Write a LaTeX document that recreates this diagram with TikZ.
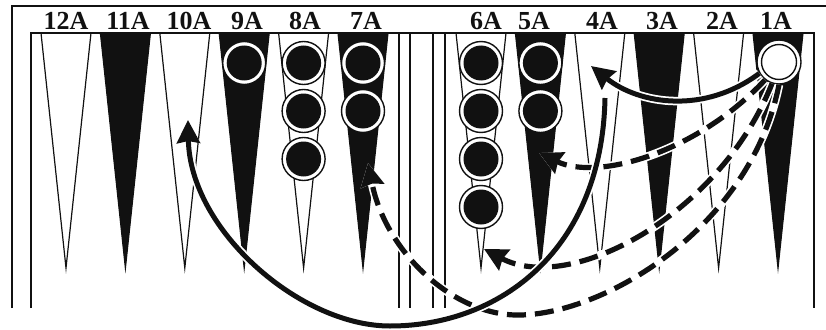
\documentclass[tikz,border=0pt]{standalone}
\usepackage{fontspec}
\setmainfont{Liberation Serif}
\usetikzlibrary{arrows.meta}
\definecolor{ink}{HTML}{111111}
\tikzset{
  every picture/.style={line width=1.3pt},
  pointw/.style={draw=ink, fill=white, line width=1.2pt, line join=miter},
  pointd/.style={draw=ink, fill=ink, line width=1.2pt},
  frame/.style={draw=ink, line width=1.4pt},
  lbl/.style={font=\fontsize{26}{28}\selectfont\bfseries, text=ink, anchor=base, inner sep=0pt},
  checker/.style={circle, draw=ink, fill=white, line width=1.4pt, minimum size=43pt, inner sep=0pt,
    path picture={\fill[ink] (path picture bounding box.center) circle (17.5pt);}},
  wchecker/.style={circle, draw=ink, fill=white, line width=1.4pt, minimum size=44pt, inner sep=0pt,
    path picture={\draw[ink, line width=1.4pt] (path picture bounding box.center) circle (17.5pt);}},
  move/.style={draw=ink, line width=5pt, -{Stealth[length=23pt, width=23pt, inset=2pt]},
    preaction={draw=white, line width=8.5pt, solid}},
  dmove/.style={move, line width=5.2pt, dash pattern=on 19pt off 9pt},
}

\begin{document}
\begin{tikzpicture}[x=1pt, y=-1pt]
  \useasboundingbox (0,0) rectangle (826,329);
  % the twelve points, 1A on the right
  \foreach \n in {1,...,12}{
    \pgfmathsetmacro\px{\n<7 ? 778-59.4*(\n-1) : 363-59.4*(\n-7)}
    \ifodd\n \def\ps{pointd}\else\def\ps{pointw}\fi
    \path[\ps] (\px-25,33) -- (\px,268) -- (\px+25,33) -- cycle;
  }
  % point labels
  \foreach \n/\lx in {12/66, 11/128, 10/189, 9/247, 8/305, 7/366, 6/486, 5/534, 4/602, 3/662, 2/722, 1/776}
    \node[lbl] (l\n) at (\lx,30) {\n A};
  % board frame and bar
  \draw[frame] (12,308) -- (12,6) -- (826,6);
  \draw[frame] (31,308) -- (31,33) -- (814,33) -- (814,308);
  \foreach \bx in {399,410,433,445}
    \draw[frame] (\bx,33) -- (\bx,308);
  % black checkers
  \foreach \p/\k in {9/1, 8/3, 7/2, 6/4, 5/2}{
    \pgfmathsetmacro\px{\p<7 ? 778-59.4*(\p-1) : 363-59.4*(\p-7)}
    \foreach \i in {1,...,\k}
      \node[checker] (c\p a\i) at (\px,{63+48*(\i-1)}) {};
  }
  % the white checker
  \node[wchecker] (c1a) at (779,62) {};
  % moves
  \coordinate (t4a) at (591,66);
  \coordinate (t5a) at (539,153);
  \coordinate (t6a) at (484,249);
  \coordinate (t7a) at (368,163);
  \coordinate (s4a) at (605,98);
  \coordinate (t10a) at (188,120);
  \draw[move] (c1a.210) .. controls (705,114) and (640,105) .. (t4a);
  \draw[dmove] (c1a.232) .. controls (700,150) and (600,182) .. (t5a);
  \draw[dmove] (c1a.252) .. controls (720,215) and (570,295) .. (t6a);
  \draw[dmove] (c1a.270) .. controls (750,230) and (600,317) .. (515,315)
    .. controls (450,313) and (385,250) .. (t7a);
  \draw[move] (s4a) .. controls (602,250) and (500,326) .. (390,326)
    .. controls (300,326) and (190,230) .. (t10a);
\end{tikzpicture}
\end{document}
